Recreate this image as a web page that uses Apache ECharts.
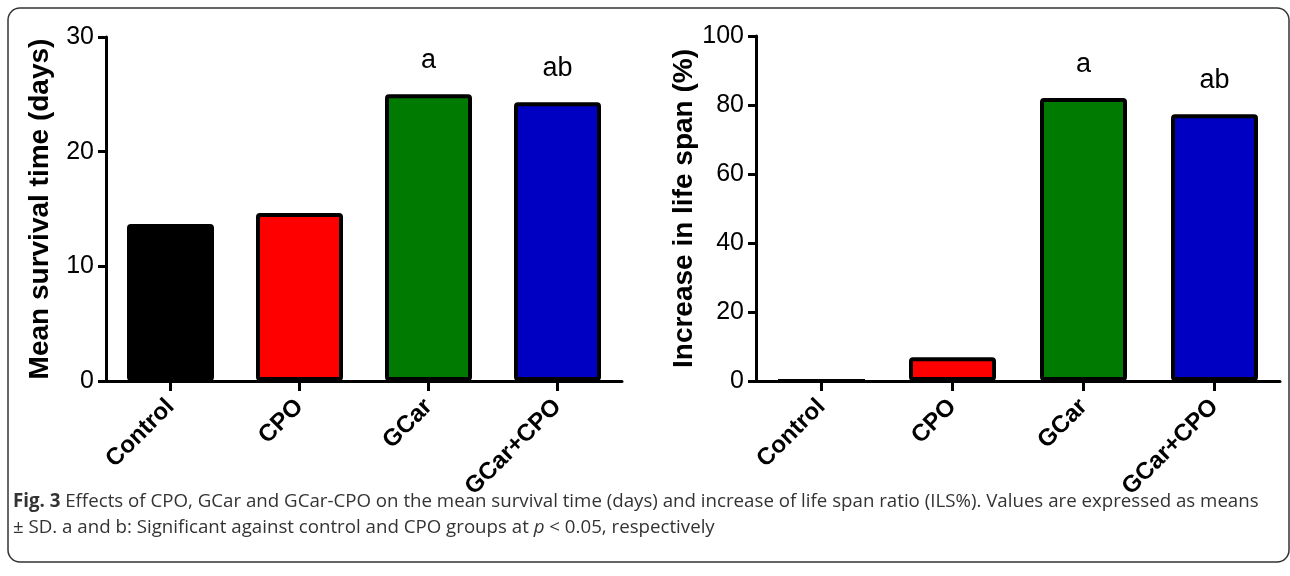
<!DOCTYPE html>
<html>
<head>
<meta charset="utf-8">
<script src="https://cdn.jsdelivr.net/npm/echarts@6/dist/echarts.min.js"></script>
<style>
html,body{margin:0;padding:0;background:#fff;}
#c{width:1290px;height:576px;}
</style>
</head>
<body>
<div id="c"></div>
<script>
const categories = ['Control', 'CPO', 'GCar', 'GCar+CPO'];
const barColors = ['#000000', '#FF0000', '#007A00', '#0000C2'];
const survivalDays = [13.7, 14.65, 25.0, 24.3];
const survivalMarks = ['', '', 'a', 'ab'];
const ilsPercent = [0, 6.85, 82.0, 77.3];
const ilsMarks = ['', '', 'a', 'ab'];
const leftTicks = { min: 0, max: 30, interval: 10 };
const rightTicks = { min: 0, max: 100, interval: 20 };
const leftTitle = 'Mean survival time (days)';
const rightTitle = 'Increase in life span (%)';

const tickFont = '"Liberation Sans Narrow","Liberation Sans",Arial,sans-serif';
const boldFont = '"Liberation Sans",Arial,sans-serif';
const capFont = '"Open Sans","Noto Sans",sans-serif';

function xAxis(gi) {
  return {
    type: 'category', gridIndex: gi, data: categories,
    axisLine: { lineStyle: { color: '#000', width: 3 } },
    axisTick: { show: true, alignWithLabel: true, length: 10, lineStyle: { color: '#000', width: 3 } },
    axisLabel: { rotate: 45, margin: 22, color: '#000', fontFamily: boldFont, fontWeight: 'bold', fontSize: 24, interval: 0 }
  };
}
function yAxis(gi, t, name, gap) {
  return {
    type: 'value', gridIndex: gi, min: t.min, max: t.max, interval: t.interval,
    name: name, nameLocation: 'middle', nameGap: gap, nameRotate: 90,
    nameTextStyle: { color: '#000', fontFamily: boldFont, fontWeight: 'bold', fontSize: 28 },
    axisLine: { show: true, lineStyle: { color: '#000', width: 3 } },
    axisTick: { show: true, length: 8, lineStyle: { color: '#000', width: 3 } },
    axisLabel: { margin: 12, color: '#000', fontFamily: tickFont, fontSize: 25 },
    splitLine: { show: false }
  };
}
function series(gi, vals, marks) {
  return {
    type: 'bar', xAxisIndex: gi, yAxisIndex: gi, barWidth: 87,
    data: vals.map((v, i) => ({
      value: v,
      itemStyle: { color: barColors[i], borderColor: '#000', borderWidth: 4, borderRadius: 2 },
      label: { show: marks[i] !== '', formatter: marks[i] }
    })),
    label: { position: 'top', distance: 20, color: '#000', fontFamily: tickFont, fontSize: 27 },
    emphasis: { disabled: true },
    animation: false
  };
}

const chart = echarts.init(document.getElementById('c'), null, { renderer: 'canvas' });
chart.setOption({
  animation: false,
  backgroundColor: '#fff',
  grid: [
    { left: 106, top: 37, width: 516, height: 344 },
    { left: 756, top: 36, width: 524, height: 345 }
  ],
  xAxis: [xAxis(0), xAxis(1)],
  yAxis: [yAxis(0, leftTicks, leftTitle, 52), yAxis(1, rightTicks, rightTitle, 57)],
  series: [series(0, survivalDays, survivalMarks), series(1, ilsPercent, ilsMarks)],
  graphic: [
    { type: 'rect', shape: { x: 8, y: 8, width: 1281, height: 554, r: 12 }, style: { fill: 'none', stroke: '#333', lineWidth: 1.5 }, z: -1 },
    { type: 'text', left: 13, top: 492, style: {
        text: '{b|Fig. 3} Effects of CPO, GCar and GCar-CPO on the mean survival time (days) and increase of life span ratio (ILS%). Values are expressed as means',
        fill: '#333', font: '18.7px ' + capFont,
        rich: { b: { fontWeight: 'bold', fontSize: 18.7, fontFamily: capFont, fill: '#333' } }
      } },
    { type: 'text', left: 13, top: 518, style: {
        text: '± SD. a and b: Significant against control and CPO groups at {i|p} < 0.05, respectively',
        fill: '#333', font: '18.7px ' + capFont,
        rich: { i: { fontStyle: 'italic', fontSize: 18.7, fontFamily: capFont, fill: '#333' } }
      } }
  ]
});
</script>
</body>
</html>
